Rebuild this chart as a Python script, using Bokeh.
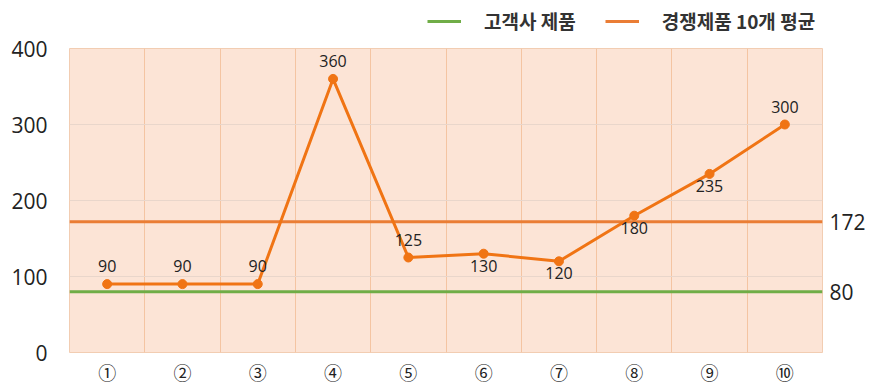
from bokeh.plotting import figure
from bokeh.layouts import column
from bokeh.models import (Range1d, FixedTicker, LinearAxis, ColumnDataSource,
                          Legend, LegendItem)
from bokeh.core.properties import value
from bokeh.embed import file_html
from bokeh.resources import INLINE

# --- data -------------------------------------------------------------
categories = ["①", "②", "③", "④", "⑤", "⑥", "⑦", "⑧", "⑨", "⑩"]
competitor = [90, 90, 90, 360, 125, 130, 120, 180, 235, 300]
client_value = 80
competitor_avg = 172
y_ticks = [0, 100, 200, 300, 400]
labels_below = ["⑥", "⑦", "⑧", "⑨"]
series_names = ["고객사 제품", "경쟁제품 10개 평균"]

ORANGE = "#F07414"
AVG_ORANGE = "#EA7D35"
GREEN = "#70AD47"
BG = "#FCE4D6"

n = len(categories)
xs = [i + 0.5 for i in range(n)]

# --- main chart -------------------------------------------------------
p = figure(width=873, height=351, output_backend="svg", toolbar_location=None,
           x_range=Range1d(0, n), y_range=Range1d(0, 400),
           min_border_left=69, min_border_right=51,
           min_border_top=12, min_border_bottom=32)
p.background_fill_color = BG
p.border_fill_color = "white"
p.outline_line_color = "#F2CDB2"

# grid: category boundaries vertically, hundreds horizontally
p.xgrid.ticker = FixedTicker(ticks=list(range(1, n)))
p.xgrid.grid_line_color = "#F4C4A2"
p.xgrid.grid_line_width = 1
p.ygrid.ticker = FixedTicker(ticks=[100, 200, 300])
p.ygrid.grid_line_color = "#E9D6CB"
p.ygrid.grid_line_width = 1


def plain_axis(ax, font, size, standoff):
    ax.major_label_text_font = font
    ax.major_label_text_font_size = size
    ax.major_label_text_color = "#222222"
    ax.major_label_standoff = standoff
    ax.axis_line_color = None
    ax.major_tick_line_color = None
    ax.minor_tick_line_color = None
    ax.major_tick_out = 0
    ax.major_tick_in = 0
    ax.minor_tick_out = 0
    ax.minor_tick_in = 0


p.xaxis.ticker = FixedTicker(ticks=xs)
p.xaxis.major_label_overrides = {x: c for x, c in zip(xs, categories)}
plain_axis(p.xaxis[0], "Noto Sans CJK JP", "18px", 6)

p.yaxis.ticker = FixedTicker(ticks=y_ticks)
plain_axis(p.yaxis[0], "Open Sans", "21px", 22)

right = LinearAxis(ticker=FixedTicker(ticks=[client_value, competitor_avg]))
plain_axis(right, "Open Sans", "21px", 7)
p.add_layout(right, "right")

# reference lines
p.line([0, n], [client_value, client_value], line_color=GREEN, line_width=3)
p.line([0, n], [competitor_avg, competitor_avg], line_color=AVG_ORANGE, line_width=3)

# competitor series
src = ColumnDataSource(dict(x=xs, y=competitor))
p.line("x", "y", source=src, line_color=ORANGE, line_width=3)
p.scatter("x", "y", source=src, size=9, fill_color=ORANGE, line_color=ORANGE)

above = ColumnDataSource(dict(
    x=[x for x, c in zip(xs, categories) if c not in labels_below],
    y=[v for v, c in zip(competitor, categories) if c not in labels_below],
    t=[str(v) for v, c in zip(competitor, categories) if c not in labels_below]))
below = ColumnDataSource(dict(
    x=[x for x, c in zip(xs, categories) if c in labels_below],
    y=[v for v, c in zip(competitor, categories) if c in labels_below],
    t=[str(v) for v, c in zip(competitor, categories) if c in labels_below]))
for s, base, off in [(above, "bottom", -12), (below, "top", 6)]:
    p.text("x", "y", text="t", source=s, text_align="center", text_baseline=base,
           y_offset=off, text_font=value("Open Sans"), text_font_size="16px",
           text_color="#222222")

# --- legend strip above the chart ------------------------------------
# its frame lines up with the chart's frame; the key lines sit outside its range
lg = figure(width=873, height=36, output_backend="svg", toolbar_location=None,
            x_range=Range1d(0, 1), y_range=Range1d(0, 1),
            min_border_left=69, min_border_right=51, min_border_top=0,
            min_border_bottom=0, x_axis_type=None, y_axis_type=None)
lg.outline_line_color = None
lg.grid.visible = False
k_client = lg.line([5, 6], [5, 6], line_color=GREEN, line_width=3)
k_avg = lg.line([5, 6], [5, 6], line_color=AVG_ORANGE, line_width=3)
legend = Legend(items=[LegendItem(label=series_names[0], renderers=[k_client]),
                       LegendItem(label=series_names[1], renderers=[k_avg])],
                orientation="horizontal", location=(358, 2),
                glyph_width=34, label_standoff=23, spacing=29, padding=0,
                margin=0, border_line_color=None, background_fill_alpha=0,
                label_text_font="Noto Sans CJK KR", label_text_font_size="19px",
                label_text_font_style="bold", label_text_color="#333333")
lg.add_layout(legend)

layout = column(lg, p, spacing=0)
open("out.html", "w").write(file_html(layout, INLINE))
